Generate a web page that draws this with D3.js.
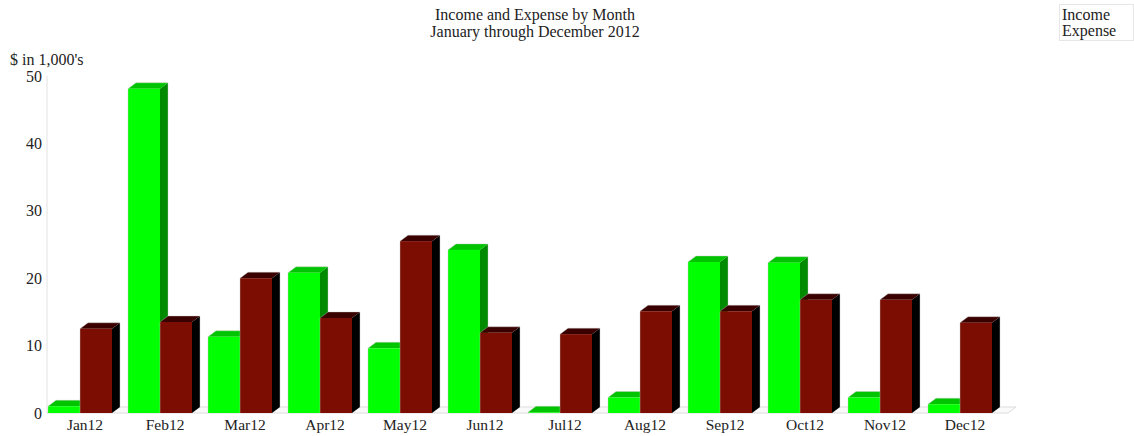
<!DOCTYPE html>
<html><head><meta charset="utf-8">
<script src="https://cdn.jsdelivr.net/npm/d3@7/dist/d3.min.js"></script>
<style>body{margin:0;background:#fff}svg{display:block}text{font-family:"Liberation Serif","Times New Roman",serif;fill:#222}</style>
</head><body>
<script>
const months = ["Jan12","Feb12","Mar12","Apr12","May12","Jun12","Jul12","Aug12","Sep12","Oct12","Nov12","Dec12"];
const income = [1.0,48.1,11.3,20.8,9.6,24.2,0.1,2.3,22.4,22.3,2.3,1.3];
const expense = [12.5,13.5,20.0,14.1,25.5,11.9,11.7,15.1,15.1,16.8,16.8,13.4];
const seriesNames = ["Income","Expense"];
const yTicks = [0,10,20,30,40,50];
const titleLines = ["Income and Expense by Month","January through December 2012"];
const yLabel = "$ in 1,000's";

const W=1134,H=436;
const svg=d3.select("body").append("svg").attr("width",W).attr("height",H);
const dx=8, dy=6;
const x=d3.scaleBand().domain(months).range([48,1008]).paddingInner(0.2).paddingOuter(0.1).align(0);
const xs=d3.scaleBand().domain(seriesNames).range([0,x.bandwidth()]);
const y=d3.scaleLinear().domain([0,50]).range([413,76]);

const colors={Income:{front:"#00ff00",side:"#008a00",top:"#00c400"},Expense:{front:"#7c0d02",side:"#000000",top:"#3a0000"}};

// floor
const x0=47,x1=1008,y0=y(0);
svg.append("path").attr("d",`M${x0},${y0}L${x1},${y0}L${x1+dx},${y0-dy}L${x0+dx},${y0-dy}Z`)
  .attr("fill","#fafafa").attr("stroke","#dcdcdc").attr("stroke-width",1);
// y axis line
svg.append("line").attr("x1",x0).attr("x2",x0).attr("y1",y(50)).attr("y2",y0).attr("stroke","#e2e2e2");

const yAxis=d3.axisLeft(y).tickValues(yTicks).tickSize(0).tickPadding(4);
const ga=svg.append("g").attr("transform",`translate(${x0-1},0)`).call(yAxis);
ga.select(".domain").remove();
ga.selectAll("text").style("font-family","Liberation Serif").style("font-size","16px").attr("fill","#222");

const data=[];
months.forEach((m,i)=>{data.push({m,s:"Income",v:income[i]});data.push({m,s:"Expense",v:expense[i]});});
const g=svg.append("g");
data.forEach(d=>{
  const bx=x(d.m)+xs(d.s), bw=xs.bandwidth(), top=y(d.v), bot=y(0);
  const c=colors[d.s];
  const b=g.append("g");
  b.append("path").attr("d",`M${bx+bw},${bot}L${bx+bw+dx},${bot-dy}L${bx+bw+dx},${top-dy}L${bx+bw},${top}Z`).attr("fill",c.side);
  b.append("path").attr("d",`M${bx},${top}L${bx+dx},${top-dy}L${bx+bw+dx},${top-dy}L${bx+bw},${top}Z`).attr("fill",c.top);
  b.append("rect").attr("x",bx).attr("y",top).attr("width",bw).attr("height",bot-top).attr("fill",c.front);
  b.append("path").attr("d",`M${bx},${bot}L${bx},${top}L${bx+dx},${top-dy}L${bx+bw+dx},${top-dy}L${bx+bw+dx},${bot-dy}`)
   .attr("fill","none").attr("stroke","rgba(200,200,200,0.5)").attr("stroke-width",0.8);
});

const xAxis=d3.axisBottom(x).tickSize(0).tickPadding(6);
const gx=svg.append("g").attr("transform",`translate(${dx/2+1},${y0})`).call(xAxis);
gx.select(".domain").remove();
gx.selectAll("text").style("font-family","Liberation Serif").style("font-size","15.5px").attr("fill","#222");

svg.append("text").attr("x",10).attr("y",65).style("font-size","16px").text(yLabel);
titleLines.forEach((t,i)=>svg.append("text").attr("x",535).attr("y",20+i*17).attr("text-anchor","middle").style("font-size","16px").text(t));

svg.append("rect").attr("x",1059.5).attr("y",4.5).attr("width",74).attr("height",36).attr("fill","#fff").attr("stroke","#e6e6e6");
seriesNames.forEach((s,i)=>svg.append("text").attr("x",1062).attr("y",20+i*16).style("font-size","16px").text(s));
</script>
</body></html>
